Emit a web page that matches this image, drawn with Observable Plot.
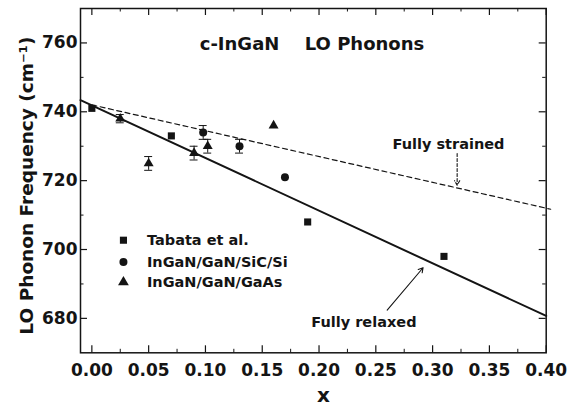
<!DOCTYPE html>
<html>
<head>
<meta charset="utf-8">
<script src="https://cdn.jsdelivr.net/npm/d3@7"></script>
<script src="https://cdn.jsdelivr.net/npm/@observablehq/plot@0.6"></script>
<style>
  html, body { margin: 0; padding: 0; background: #fff; }
  #chart { width: 567px; height: 408px; }
</style>
</head>
<body>
<div id="chart"></div>
<script>
// ---- data ----
const tabataX = [0.0, 0.07, 0.19, 0.31];
const tabataY = [741, 733, 708, 698];

const sicX = [0.098, 0.13, 0.17];
const sicY = [734, 730, 721];
const sicErr = [2, 2, 0];

const gaasX = [0.025, 0.05, 0.09, 0.102, 0.16];
const gaasY = [738, 725, 728, 730, 736];
const gaasErr = [1.2, 2, 2, 2, 0];

const relaxedX = [-0.01, 0.40];
const relaxedY = [743.4, 680.7];
const strainedX = [0.0, 0.404];
const strainedY = [742, 711.7];

const xTicks = [0, 0.05, 0.10, 0.15, 0.20, 0.25, 0.30, 0.35, 0.40];
const xMinor = [0.025, 0.075, 0.125, 0.175, 0.225, 0.275, 0.325, 0.375];
const yTicks = [680, 700, 720, 740, 760];
const yMinor = [690, 710, 730, 750];

const legendNames = ["Tabata et al.", "InGaN/GaN/SiC/Si", "InGaN/GaN/GaAs"];
const legendSymbols = ["square", "circle", "triangle"];
const titleParts = ["c-InGaN", "LO Phonons"];
const yLabel = "LO Phonon Frequency (cm\u207B\u00B9)";
const xLabel = "x";

// ---- tables ----
const tabata = tabataX.map((x, i) => ({x, y: tabataY[i]}));
const sic = sicX.map((x, i) => ({x, y: sicY[i], e: sicErr[i]}));
const gaas = gaasX.map((x, i) => ({x, y: gaasY[i], e: gaasErr[i]}));
const errs = [...sic, ...gaas].filter(d => d.e > 0);
const relaxed = relaxedX.map((x, i) => ({x, y: relaxedY[i]}));
const strained = strainedX.map((x, i) => ({x, y: strainedY[i]}));
const legendY = [702.7, 696.4, 690.5];
const legend = legendNames.map((name, i) => ({name, symbol: legendSymbols[i], y: legendY[i]}));

const W = 567, H = 408;
const mL = 80, mR = 21.3, mT = 8, mB = 55.7;
const pw = W - mL - mR, ph = H - mT - mB;
const ink = "#141414";
const font = "DejaVu Sans";

const chart = Plot.plot({
  width: W, height: H,
  marginLeft: mL, marginRight: mR, marginTop: mT, marginBottom: mB,
  x: {domain: [-0.01, 0.40]},
  y: {domain: [670, 770]},
  style: {fontFamily: font, fontWeight: "bold", color: ink, background: "#fff", overflow: "visible"},
  marks: [
    Plot.frame({stroke: ink, strokeWidth: 1.5}),
    // inward ticks
    Plot.tickX(xTicks, {x: d => d, insetTop: ph - 7, stroke: ink, strokeWidth: 1.2}),
    Plot.tickX(xTicks, {x: d => d, insetBottom: ph - 7, stroke: ink, strokeWidth: 1.2}),
    Plot.tickX(xMinor, {x: d => d, insetTop: ph - 3.5, stroke: ink, strokeWidth: 1}),
    Plot.tickX(xMinor, {x: d => d, insetBottom: ph - 3.5, stroke: ink, strokeWidth: 1}),
    Plot.tickY(yTicks, {y: d => d, insetRight: pw - 7, stroke: ink, strokeWidth: 1.2}),
    Plot.tickY(yTicks, {y: d => d, insetLeft: pw - 7, stroke: ink, strokeWidth: 1.2}),
    Plot.tickY(yMinor, {y: d => d, insetRight: pw - 3.5, stroke: ink, strokeWidth: 1}),
    Plot.tickY(yMinor, {y: d => d, insetLeft: pw - 3.5, stroke: ink, strokeWidth: 1}),
    // axes (labels only)
    Plot.axisX(xTicks, {tickSize: 0, tickPadding: 11, tickFormat: d3.format(".2f"), fontSize: 17, fontWeight: "bold", label: null, fill: ink}),
    Plot.axisY(yTicks, {tickSize: 0, tickPadding: 3, fontSize: 17, fontWeight: "bold", label: null, fill: ink}),
    Plot.text([xLabel], {frameAnchor: "bottom", dx: 10, dy: 49, fontSize: 20, fontWeight: "bold", fill: ink}),
    Plot.text([yLabel], {frameAnchor: "left", textAnchor: "middle", rotate: -90, dx: -53, dy: 5, fontSize: 18.5, fontWeight: "bold", fill: ink}),
    // lines
    Plot.line(relaxed, {x: "x", y: "y", stroke: ink, strokeWidth: 2}),
    Plot.line(strained, {x: "x", y: "y", stroke: ink, strokeWidth: 1.2, strokeDasharray: "5,3.5"}),
    // error bars
    Plot.ruleX(errs, {x: "x", y1: d => d.y - d.e, y2: d => d.y + d.e, stroke: ink, strokeWidth: 1}),
    Plot.ruleY(errs, {y: d => d.y + d.e, x1: d => d.x - 0.0035, x2: d => d.x + 0.0035, stroke: ink, strokeWidth: 1}),
    Plot.ruleY(errs, {y: d => d.y - d.e, x1: d => d.x - 0.0035, x2: d => d.x + 0.0035, stroke: ink, strokeWidth: 1}),
    // points
    Plot.dot(tabata, {x: "x", y: "y", symbol: "square", r: 4, fill: ink}),
    Plot.dot(sic, {x: "x", y: "y", symbol: "circle", r: 4, fill: ink}),
    Plot.dot(gaas, {x: "x", y: "y", symbol: "triangle", r: 3.7, fill: ink}),
    // annotations
    Plot.text(titleParts, {x: [0.130, 0.240], y: [759.6, 759.6], text: d => d, fontSize: 18, fontWeight: "bold", fill: ink}),
    Plot.text(["Fully strained"], {x: [0.314], y: [730.6], text: d => d, fontSize: 14.5, fontWeight: "bold", fill: ink}),
    Plot.text(["Fully relaxed"], {x: [0.2395], y: [678.7], text: d => d, fontSize: 14.5, fontWeight: "bold", fill: ink}),
    Plot.arrow([0], {x1: 0.3216, y1: 727.9, x2: 0.3216, y2: 718.7, stroke: ink, strokeWidth: 1.1, strokeDasharray: "3,2", headLength: 7}),
    Plot.arrow([0], {x1: 0.260, y1: 682.4, x2: 0.2916, y2: 694.7, stroke: ink, strokeWidth: 1.1, headLength: 7}),
    // legend
    Plot.dot(legend, {x: 0.0278, y: "y", symbol: "symbol", r: 4, fill: ink}),
    Plot.text(legend, {x: 0.0485, y: "y", text: "name", textAnchor: "start", fontSize: 14.5, fontWeight: "bold", fill: ink})
  ]
});
document.getElementById("chart").appendChild(chart);
</script>
</body>
</html>
